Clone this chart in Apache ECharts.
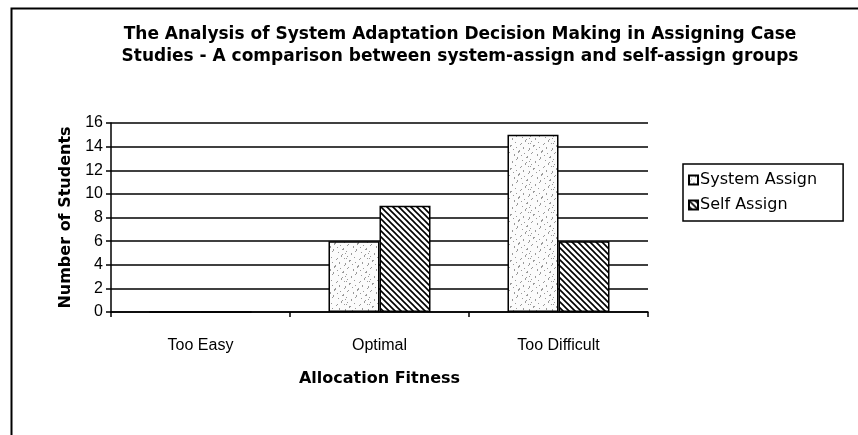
<!DOCTYPE html>
<html>
<head>
<meta charset="utf-8">
<script src="https://cdn.jsdelivr.net/npm/echarts@6/dist/echarts.min.js"></script>
<style>html,body{margin:0;padding:0;background:#fff}#c{width:858px;height:435px}</style>
</head>
<body>
<div id="c"></div>
<script>
const categories = ['Too Easy', 'Optimal', 'Too Difficult'];
const systemAssign = [0, 6, 15];
const selfAssign = [0, 9, 6];
const seriesNames = ['System Assign', 'Self Assign'];
const yTicks = [0, 2, 4, 6, 8, 10, 12, 14, 16];
const titleLines = ['The Analysis of System Adaptation Decision Making in Assigning Case',
                    'Studies - A comparison between system-assign and self-assign groups'];

function hatchPattern() {
  const c = document.createElement('canvas');
  c.width = 6; c.height = 6;
  const g = c.getContext('2d');
  g.fillStyle = '#fff'; g.fillRect(0, 0, 6, 6);
  g.strokeStyle = '#000'; g.lineWidth = 1.6;
  g.beginPath();
  g.moveTo(-1, -1); g.lineTo(7, 7);
  g.moveTo(-4, 2); g.lineTo(4, 10);
  g.moveTo(2, -4); g.lineTo(10, 4);
  g.stroke();
  return c;
}
function stipplePattern() {
  const s = 23;
  const c = document.createElement('canvas');
  c.width = s; c.height = s;
  const g = c.getContext('2d');
  g.fillStyle = '#fbfbfb'; g.fillRect(0, 0, s, s);
  g.fillStyle = '#9a9a9a';
  for (let i = 0; i < 40; i++) {
    const x = (i * 7 + (i % 3) * 5) % s;
    const y = (i * 11 + (i % 4) * 3) % s;
    g.fillRect(x, y, 1, 1);
  }
  return c;
}

const chart = echarts.init(document.getElementById('c'), null, {renderer: 'canvas'});
const font = 'Liberation Sans, Arial, sans-serif';
const wide = 'DejaVu Sans, sans-serif';
chart.setOption({
  animation: false,
  backgroundColor: '#fff',
  title: {
    text: titleLines.join('\n'),
    left: 455, top: 19, textAlign: 'center',
    textStyle: {fontFamily: wide, fontWeight: 'bold', fontSize: 17, lineHeight: 22, color: '#000'}
  },
  graphic: [{
    type: 'rect', left: 9, top: 6, shape: {width: 900, height: 500},
    style: {fill: 'none', stroke: '#000', lineWidth: 2}, silent: true
  }],
  legend: {
    orient: 'vertical', left: 683, top: 164,
    backgroundColor: '#fff',
    borderColor: '#000', borderWidth: 1.5, padding: [8, 26, 8, 5],
    itemWidth: 9, itemHeight: 9, itemGap: 9, icon: 'rect',
    textStyle: {fontFamily: wide, fontSize: 16, color: '#000', padding: [0, 0, 0, -3]},
    data: seriesNames
  },
  grid: {left: 111, right: 210, top: 123, bottom: 123, containLabel: false},
  xAxis: {
    type: 'category', data: categories,
    name: 'Allocation Fitness', nameLocation: 'middle', nameGap: 59,
    nameTextStyle: {fontFamily: wide, fontWeight: 'bold', fontSize: 16, color: '#000'},
    axisLine: {lineStyle: {color: '#000', width: 1.5}},
    axisTick: {show: true, length: 5, lineStyle: {color: '#000', width: 1.5}},
    axisLabel: {fontFamily: font, fontSize: 16, color: '#000', margin: 26}
  },
  yAxis: {
    type: 'value', min: 0, max: 16, interval: 2,
    name: 'Number of Students', nameLocation: 'middle', nameGap: 37,
    nameTextStyle: {fontFamily: wide, fontWeight: 'bold', fontSize: 16, color: '#000'},
    axisLine: {show: true, lineStyle: {color: '#000', width: 1.5}},
    axisTick: {show: true, length: 5, lineStyle: {color: '#000', width: 1.5}},
    axisLabel: {fontFamily: font, fontSize: 16, color: '#000', margin: 8,
      formatter: v => yTicks.includes(v) ? String(v) : ''},
    splitLine: {show: true, lineStyle: {color: '#000', width: 1.5}}
  },
  series: [{
    name: seriesNames[0], type: 'bar', data: systemAssign,
    barGap: '0%', barCategoryGap: '43%',
    itemStyle: {color: {image: stipplePattern(), repeat: 'repeat'}, borderColor: '#000', borderWidth: 1.5}
  }, {
    name: seriesNames[1], type: 'bar', data: selfAssign,
    itemStyle: {color: {image: hatchPattern(), repeat: 'repeat'}, borderColor: '#000', borderWidth: 1.5}
  }]
});
</script>
</body>
</html>
